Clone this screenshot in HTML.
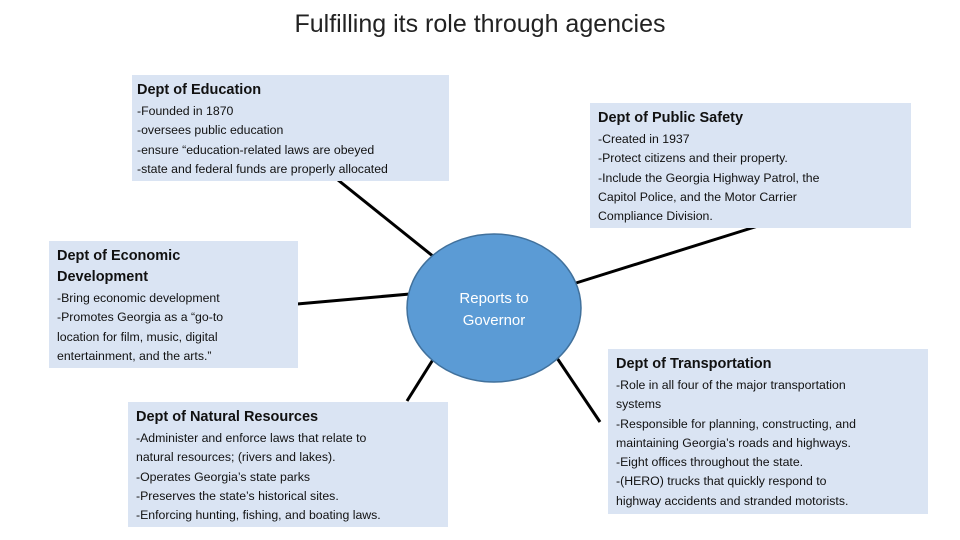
<!DOCTYPE html>
<html><head><style>
body{margin:0;width:960px;height:540px;background:#fff;position:relative;overflow:hidden;font-family:"Liberation Sans",sans-serif;}
.t{position:absolute;top:10px;left:0;width:960px;text-align:center;font-size:25px;color:#222;}
.b{position:absolute;background:#dae4f3;color:#111;font-size:12.3px;line-height:19.3px;box-sizing:border-box;padding:5px 4px 0 5px;}
.b h{display:block;font-weight:bold;font-size:14.5px;line-height:21px;margin-bottom:1px;}
svg{position:absolute;left:0;top:0;}
</style></head><body>
<div class="t">Fulfilling its role through agencies</div>
<svg width="960" height="540">
<g stroke="#000" stroke-width="3">
<line x1="338" y1="180" x2="434" y2="257"/>
<line x1="758" y1="226" x2="576" y2="283"/>
<line x1="297" y1="304" x2="410" y2="294"/>
<line x1="407" y1="401" x2="434" y2="358"/>
<line x1="557" y1="358" x2="600" y2="422"/>
</g>
<ellipse cx="494" cy="308" rx="87" ry="74" fill="#5b9bd5" stroke="#41719c" stroke-width="1.5"/>
<text x="494" y="303" fill="#fff" font-size="15" text-anchor="middle" font-family="Liberation Sans">Reports to</text>
<text x="494" y="325" fill="#fff" font-size="15" text-anchor="middle" font-family="Liberation Sans">Governor</text>
</svg>
<div class="b" style="left:132px;top:75px;width:317px;height:106px;"><h>Dept of Education</h>-Founded in 1870<br>-oversees public education<br>-ensure “education-related laws are obeyed<br>-state and federal funds are properly allocated</div>
<div class="b" style="left:590px;top:103px;width:321px;height:125px;padding-left:8px;"><h>Dept of Public Safety</h>-Created in 1937<br>-Protect citizens and their property.<br>-Include the Georgia Highway Patrol, the<br>Capitol Police, and the Motor Carrier<br>Compliance Division.</div>
<div class="b" style="left:49px;top:241px;width:249px;height:127px;padding-left:8px;"><h>Dept of Economic<br>Development</h>-Bring economic development<br>-Promotes Georgia as a “go-to<br>location for film, music, digital<br>entertainment, and the arts.”</div>
<div class="b" style="left:128px;top:402px;width:320px;height:125px;padding-left:8px;"><h>Dept of Natural Resources</h>-Administer and enforce laws that relate to<br>natural resources; (rivers and lakes).<br>-Operates Georgia’s state parks<br>-Preserves the state’s historical sites.<br>-Enforcing hunting, fishing, and boating laws.</div>
<div class="b" style="left:608px;top:349px;width:320px;height:165px;padding-left:8px;"><h>Dept of Transportation</h>-Role in all four of the major transportation<br>systems<br>-Responsible for planning, constructing, and<br>maintaining Georgia’s roads and highways.<br>-Eight offices throughout the state.<br>-(HERO) trucks that quickly respond to<br>highway accidents and stranded motorists.</div>
</body></html>
